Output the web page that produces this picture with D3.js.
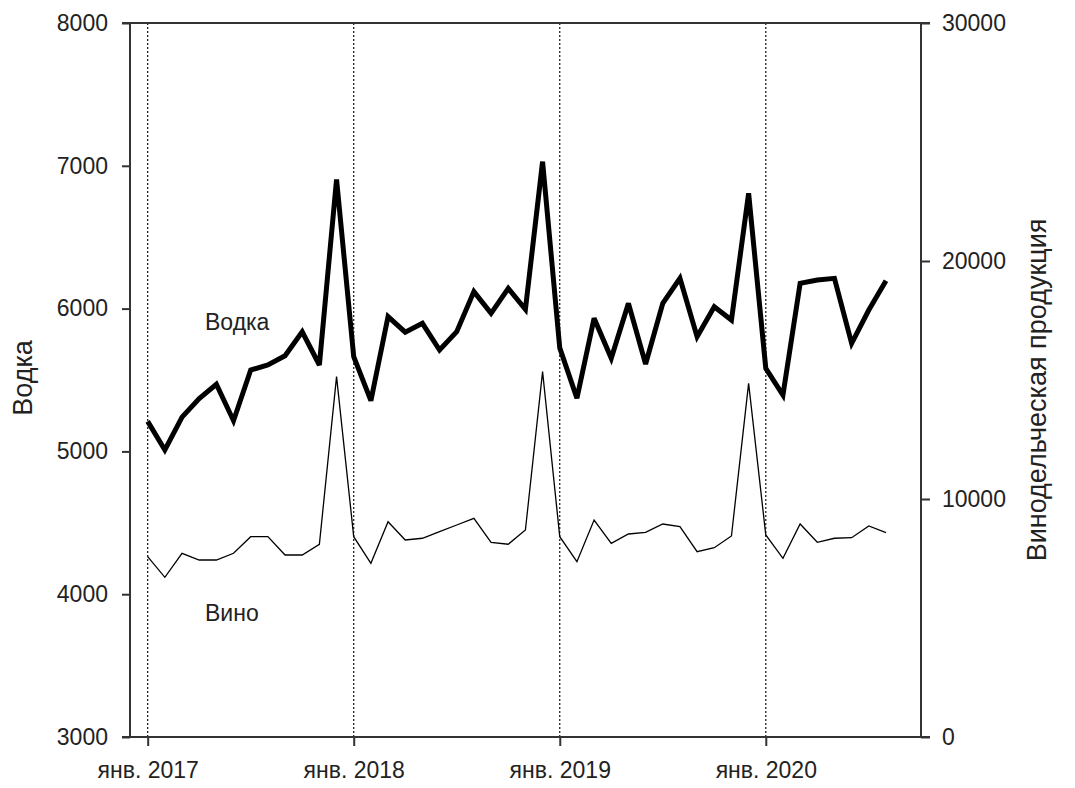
<!DOCTYPE html>
<html>
<head>
<meta charset="utf-8">
<script src="https://cdn.jsdelivr.net/npm/d3@7"></script>
<style>
  body { margin: 0; background: #fff; }
  svg { display: block; font-family: "Liberation Sans", Arial, sans-serif; }
</style>
</head>
<body>
<svg id="chart" width="1075" height="788"></svg>
<script>
// Months: Jan 2017 (index 0) .. Aug 2020 (index 43)
const monthIndex = d3.range(44);
const vodka = [5210, 5010, 5240, 5370, 5470, 5215, 5570, 5605, 5670, 5838, 5605, 6905,
               5663, 5355, 5944, 5835, 5897, 5710, 5838, 6119, 5967, 6142, 5995, 7029,
               5725, 5372, 5932, 5652, 6037, 5612, 6037, 6212, 5803, 6013, 5920, 6807,
               5582, 5395, 6177, 6200, 6212, 5757, 5990, 6195];
const wine  = [7577, 6710, 7719, 7437, 7437, 7719, 8417, 8417, 7648, 7648, 8097, 15140,
               8417, 7299, 9047, 8278, 8350, 8627, 8908, 9190, 8181, 8100, 8698, 15350,
               8417, 7366, 9118, 8139, 8530, 8601, 8950, 8837, 7786, 7954, 8446, 14860,
               8488, 7510, 8950, 8181, 8350, 8375, 8866, 8586];
const xTickIdx = [0, 12, 24, 36];
const xTickLabels = ["янв. 2017", "янв. 2018", "янв. 2019", "янв. 2020"];
const leftTicks = [3000, 4000, 5000, 6000, 7000, 8000];
const rightTicks = [0, 10000, 20000, 30000];

const svg = d3.select("#chart");
const L = 130, R = 921, T = 23, B = 737;

const x = d3.scaleLinear().domain([-1.03, 45.04]).range([L, R]);
const yL = d3.scaleLinear().domain([3000, 8000]).range([B, T]);
const yR = d3.scaleLinear().domain([0, 30000]).range([B, T]);

const axisColor = "#333";
const textColor = "#222";

// dotted vertical lines at January
svg.append("g").selectAll("line").data(xTickIdx).join("line")
  .attr("x1", d => x(d)).attr("x2", d => x(d))
  .attr("y1", T).attr("y2", B)
  .attr("stroke", "#111").attr("stroke-width", 1.2)
  .attr("stroke-dasharray", "2,2");

// left axis
const gL = svg.append("g").attr("transform", `translate(${L},0)`)
  .call(d3.axisLeft(yL).tickValues(leftTicks).tickSize(8).tickPadding(14).tickFormat(d3.format("d")));
// right axis
const gR = svg.append("g").attr("transform", `translate(${R},0)`)
  .call(d3.axisRight(yR).tickValues(rightTicks).tickSize(9).tickPadding(12).tickFormat(d3.format("d")));
// bottom axis
const gB = svg.append("g").attr("transform", `translate(0,${B})`)
  .call(d3.axisBottom(x).tickValues(xTickIdx).tickSize(9).tickPadding(16)
    .tickFormat((d, i) => xTickLabels[i]));
// top axis line
const gT = svg.append("g").attr("transform", `translate(0,${T})`)
  .call(d3.axisTop(x).tickValues([]).tickSizeOuter(0));

[gL, gR, gB, gT].forEach(g => {
  g.select(".domain").attr("stroke", axisColor).attr("stroke-width", 2);
  g.selectAll(".tick line").attr("stroke", axisColor).attr("stroke-width", 2);
  g.selectAll(".tick text").attr("fill", textColor)
    .style("font-size", "23px").style("font-family", '"Liberation Sans", Arial, sans-serif');
});
// extend top/bottom frame lines over the tick area
gB.select(".domain").attr("d", `M${L - 8},0H${R + 9}`);
gT.select(".domain").attr("d", `M${L - 8},0H${R + 9}`);
gL.select(".domain").attr("d", `M0,${T}V${B}`);
gR.select(".domain").attr("d", `M0,${T}V${B}`);

// lines
const lineL = d3.line().x((d, i) => x(monthIndex[i])).y(d => yL(d));
const lineR = d3.line().x((d, i) => x(monthIndex[i])).y(d => yR(d));

svg.append("path").datum(wine)
  .attr("d", lineR).attr("fill", "none").attr("stroke", "#000").attr("stroke-width", 1.3)
  .attr("stroke-linejoin", "miter");
svg.append("path").datum(vodka)
  .attr("d", lineL).attr("fill", "none").attr("stroke", "#000").attr("stroke-width", 5)
  .attr("stroke-linejoin", "miter").attr("stroke-miterlimit", 3);

// in-plot labels
svg.append("text").attr("x", 205).attr("y", 330).text("Водка")
  .attr("fill", textColor).style("font-size", "23px");
svg.append("text").attr("x", 205).attr("y", 621).text("Вино")
  .attr("fill", textColor).style("font-size", "23px");

// axis titles
svg.append("text").attr("transform", "translate(32,378) rotate(-90)")
  .attr("text-anchor", "middle").text("Водка")
  .attr("fill", textColor).style("font-size", "27px");
svg.append("text").attr("transform", "translate(1046,390) rotate(-90)")
  .attr("text-anchor", "middle").text("Винодельческая продукция")
  .attr("fill", textColor).style("font-size", "27px");
</script>
</body>
</html>
